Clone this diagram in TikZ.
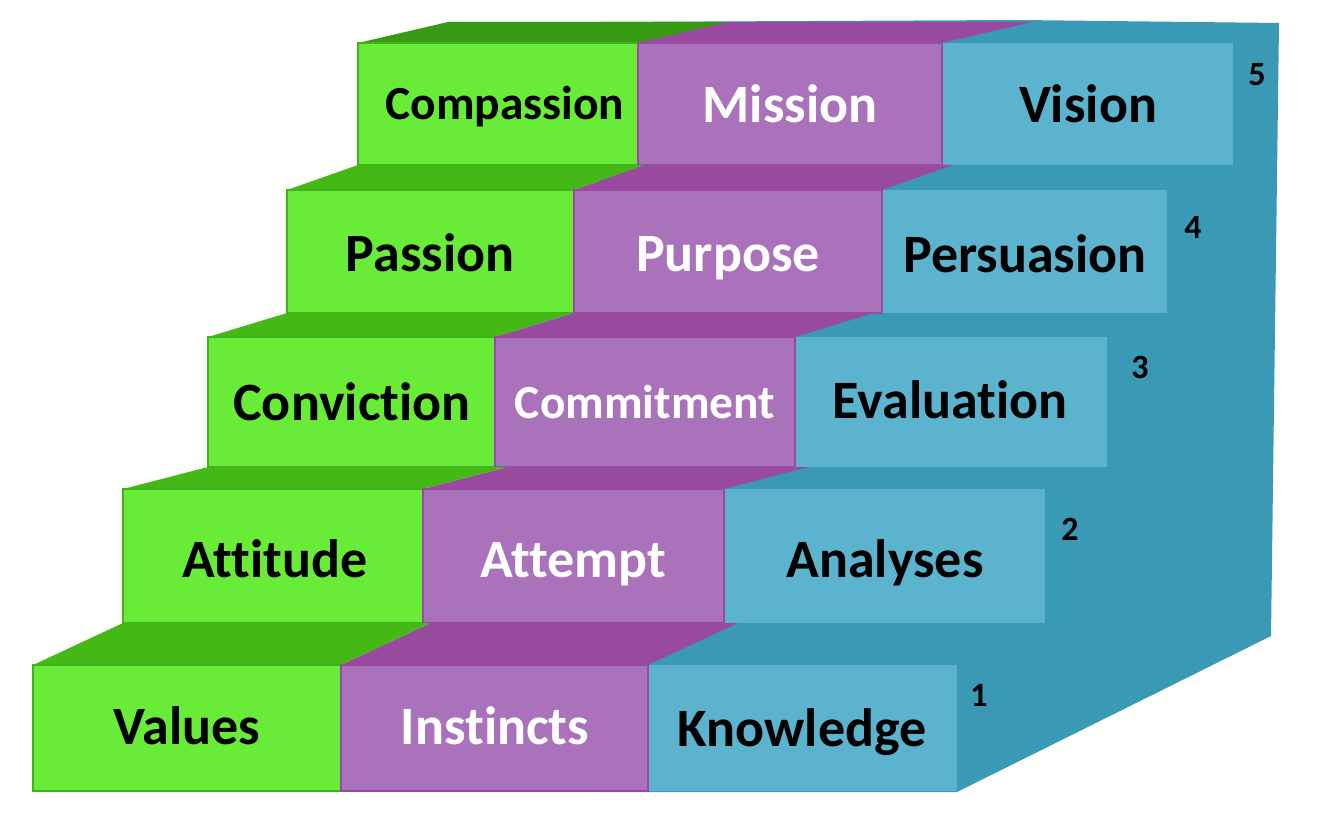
\documentclass[tikz,border=0pt]{standalone}
\usepackage{fontspec}
\setmainfont[RawFeature={-liga;-clig;-dlig}]{Carlito}
\definecolor{gF}{HTML}{69EC38}
\definecolor{gT}{HTML}{44B916}
\definecolor{gTd}{HTML}{379A12}
\definecolor{gL}{HTML}{3DB21A}
\definecolor{pF}{HTML}{AA72BA}
\definecolor{pT}{HTML}{984A9E}
\definecolor{pL}{HTML}{9A4AA6}
\definecolor{bF}{HTML}{5CB3CD}
\definecolor{bD}{HTML}{3A9AB5}
\tikzset{
  gface/.style={fill=gF,draw=gL,line width=1.5pt},
  pface/.style={fill=pF,draw=pL,line width=1.2pt},
  bface/.style={fill=bF},
  gtop/.style={fill=gT},
  ptop/.style={fill=pT},
  lbl/.style={anchor=base,font=\fontsize{54}{54}\selectfont\bfseries,inner sep=0pt},
  lbls/.style={anchor=base,font=\fontsize{47.5}{47.5}\selectfont\bfseries,inner sep=0pt},
  num/.style={font=\fontsize{34}{34}\selectfont\bfseries,inner sep=0pt},
}
\begin{document}
\begin{tikzpicture}[x=1pt,y=-1pt]
\useasboundingbox (0,0) rectangle (1317,818);
% dark blue body (side and blue treads)
\fill[bD] (600,22) -- (1020,20) -- (1279,23) -- (1271,636) -- (957,792) -- (600,792) -- cycle;
% rows: left, green/purple, purple/blue, right, top, bottom, back, dx
\foreach \L/\G/\P/\R/\T/\B/\K/\D/\gc in {
  358/638/942/1233/43/165/22/90/gTd,
  287/574/882/1167/190/313/165/71/gT,
  208/495/795/1107/337/467/313/79/gT,
  123/423/724/1045/489/623/467/85/gT,
  33/341/648/957/665/791/623/90/gT}{
  \fill[\gc] (\L,\T) -- (\L+\D,\K) -- (\G+\D,\K) -- (\G,\T) -- cycle;
  \fill[pT] (\G,\T) -- (\G+\D,\K) -- (\P+\D,\K) -- (\P,\T) -- cycle;
  \fill[bface] (\P,\T) rectangle (\R,\B);
  \draw[gface] (\L,\T) rectangle (\G,\B);
  \draw[pface] (\G,\T) rectangle (\P,\B);
}
% labels
\node[lbls] (compassion) at (505,120) {Compassion};
\node[lbl,white] (mission) at (790,123) {Mission};
\node[lbl] (vision) at (1088,123) {Vision};
\node[lbl] (passion) at (430,272) {Passion};
\node[lbl,white] (purpose) at (728,272) {Purpose};
\node[lbl] (persuasion) at (1025,273) {Persuasion};
\node[lbl] (conviction) at (352,420) {Conviction};
\node[lbls,white] (commitment) at (645,418) {Commitment};
\node[lbl] (evaluation) at (950,418) {Evaluation};
\node[lbl] (attitude) at (275,577) {Attitude};
\node[lbl,white] (attempt) at (573,577) {Attempt};
\node[lbl] (analyses) at (885,577) {Analyses};
\node[lbl] (values) at (187,744) {Values};
\node[lbl,white] (instincts) at (495,744) {Instincts};
\node[lbl] (knowledge) at (802,746) {Knowledge};
% step numbers
\node[num] (n5) at (1257,75) {5};
\node[num] (n4) at (1193,227) {4};
\node[num] (n3) at (1140,367) {3};
\node[num] (n2) at (1070,529) {2};
\node[num] (n1) at (979,695) {1};
\end{tikzpicture}
\end{document}
